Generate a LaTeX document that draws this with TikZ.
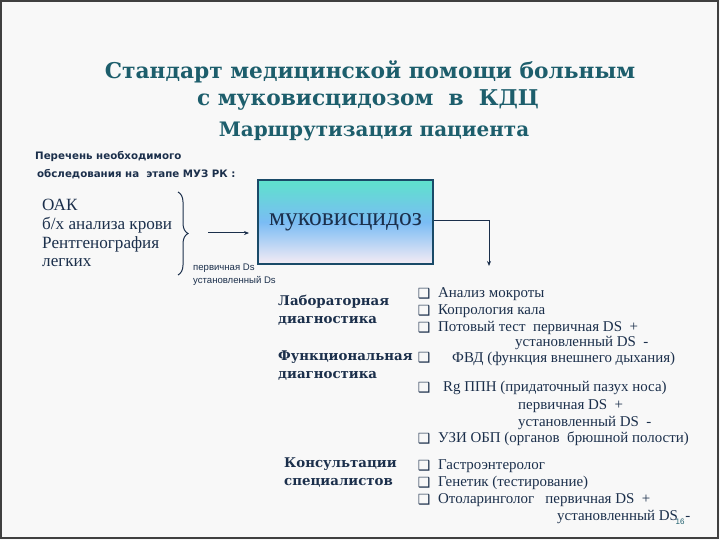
\documentclass[tikz,border=0pt]{standalone}
\usepackage{fontspec}
\setmainfont{Liberation Serif}
\newfontfamily\ttlfont{DejaVu Serif}
\newfontfamily\lblfont{DejaVu Serif}
\newfontfamily\smallsans{DejaVu Sans}
\newfontfamily\arialf{Liberation Sans}
\newfontfamily\symf{DejaVu Sans}
\usetikzlibrary{decorations.pathreplacing,arrows.meta}
\definecolor{ttl}{HTML}{1D5E6C}
\definecolor{ink}{HTML}{1B2F4B}
\definecolor{frame}{HTML}{404040}
\definecolor{bg}{HTML}{F8F8F8}
\definecolor{boxb}{HTML}{1A4A68}
\definecolor{gtop}{HTML}{5EE2CC}
\definecolor{gmid}{HTML}{7ABCF4}
\definecolor{gbot}{HTML}{F6ECF4}
\tikzset{
  ttlline/.style={inner sep=0, text=ttl, font=\ttlfont\bfseries\fontsize{21.8}{21.8}\selectfont},
  subttl/.style={inner sep=0, text=ttl, font=\ttlfont\bfseries\fontsize{20}{20}\selectfont},
  note/.style={inner sep=0, anchor=west, text=ink, font=\smallsans\bfseries\fontsize{10.3}{10.3}\selectfont},
  oak/.style={inner sep=0, anchor=west, text=ink, font=\fontsize{17.2}{17.2}\selectfont},
  tiny/.style={inner sep=0, anchor=west, text=ink, font=\arialf\fontsize{9.6}{9.6}\selectfont},
  lbl/.style={inner sep=0, anchor=west, text=ink, font=\lblfont\bfseries\fontsize{13.4}{13.4}\selectfont},
  item/.style={inner sep=0, anchor=west, text=ink, font=\fontsize{15}{15}\selectfont},
  bul/.style={inner sep=0, text=ink, font=\symf\fontsize{14}{14}\selectfont},
  conn/.style={draw=ink, line width=1bp},
  tip/.style={-{Stealth[length=5bp,width=4bp]}}
}
\begin{document}
\begin{tikzpicture}[x=1bp,y=-1bp]
\useasboundingbox (0,0) rectangle (720,540);
\fill[bg] (0,0) rectangle (720,540);
\draw[frame, line width=2bp] (1,1) rectangle (718,538);

% titles
\node[ttlline] (t1) at (370,72) {Стандарт медицинской помощи больным};
\node[ttlline] (t2) at (368,100) {с муковисцидозом\ \ в\ \ КДЦ};
\node[subttl] (t3) at (374,131) {Маршрутизация пациента};

% left notes
\node[note] (n1) at (35,157) {Перечень необходимого};
\node[note] (n2) at (37,174) {обследования на\ \ этапе МУЗ РК :};

\node[oak] (o1) at (42,205) {ОАК};
\node[oak] (o2) at (42,225) {б/х анализа крови};
\node[oak] (o3) at (42,244) {Рентгенография};
\node[oak] (o4) at (42,263) {легких};

\coordinate (brT) at (178,192);
\coordinate (brB) at (178,275);
\draw[conn, decorate, decoration={brace, amplitude=10bp}] (brT) -- (brB);

\coordinate (aS) at (208,233);
\coordinate (aE) at (249,233);
\draw[conn, tip] (aS) -- (aE);

\node[tiny] (p1) at (193,268) {первичная Ds};
\node[tiny] (p2) at (193,281) {установленный Ds};

% main box
\node[draw=boxb, line width=2bp, minimum width=175bp, minimum height=84bp,
      shading=axis, top color=gtop, bottom color=gbot, middle color=gmid,
      text=ink, font=\fontsize{25.6}{25.6}\selectfont] (muk) at (345.5,222) {муковисцидоз};
\coordinate (bend) at (489,221);
\coordinate (dn) at (489,266);
\draw[conn, tip] (muk.east |- bend) -- (bend) -- (dn);

% groups
\node[lbl] (l1) at (278,302) {Лабораторная};
\node[lbl] (l2) at (278,321) {диагностика};
\node[lbl] (f1) at (278,357) {Функциональная};
\node[lbl] (f2) at (278,376) {диагностика};
\node[lbl] (k1) at (284,464) {Консультации};
\node[lbl] (k2) at (284,483) {специалистов};

% bullets
\foreach \y [count=\i] in {294,311,328,358,388,439,466,483,500}
  \node[bul] (b\i) at (424,\y) {❑};

\node[item] (i1) at (438,294) {Анализ мокроты};
\node[item] (i2) at (438,311) {Копрология кала};
\node[item] (i3) at (438,328) {Потовый тест\ \ первичная DS\ \ +};
\node[item] (i3b) at (515,343) {установленный DS\ \ -};
\node[item] (i4) at (452,359) {ФВД (функция внешнего дыхания)};
\node[item] (i5) at (443,388) {Rg ППН (придаточный пазух носа)};
\node[item] (i5b) at (518,406) {первичная DS\ \ +};
\node[item] (i5c) at (518,423) {установленный DS\ \ -};
\node[item] (i6) at (438,439) {УЗИ ОБП (органов\ \ брюшной полости)};
\node[item] (i7) at (438,466) {Гастроэнтеролог};
\node[item] (i8) at (438,483) {Генетик (тестирование)};
\node[item] (i9) at (438,500) {Отоларинголог\ \ \ первичная DS\ \ +};
\node[item] (i9b) at (557,517) {установленный DS\ \ -};
\node[inner sep=0, text=ttl, font=\arialf\fontsize{8}{8}\selectfont] (pg) at (680,522) {16};
\end{tikzpicture}
\end{document}
